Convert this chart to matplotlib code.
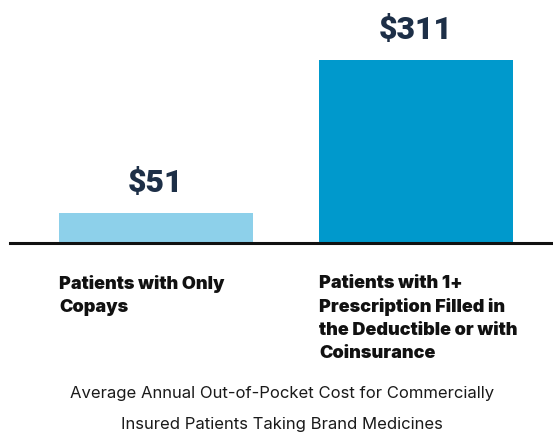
"""Average annual out-of-pocket cost, two bars with a baseline."""

import matplotlib
matplotlib.use("Agg")
import matplotlib.pyplot as plt

# ── Data ──────────────────────────────────────────────────────────────────────
categories = ["Patients with Only\nCopays",
              "Patients with 1+\nPrescription Filled in\nthe Deductible or with\nCoinsurance"]
values = [51, 311]
value_labels = ["$51", "$311"]
caption = ("Average Annual Out-of-Pocket Cost for Commercially\n"
           "Insured Patients Taking Brand Medicines")

BAR_COLORS = ["#8dd0ea", "#0099cc"]
NAVY = "#1d2f47"

# ── Plot ──────────────────────────────────────────────────────────────────────
W, H = 553, 437
fig = plt.figure(figsize=(W / 100, H / 100), dpi=100)
ax = fig.add_axes([10 / W, (H - 243) / H, 543 / W, 243 / H])

xs = range(len(values))
ax.bar(xs, values, width=0.746, color=BAR_COLORS, zorder=2)

ax.set_xlim(-0.5615, 1.527)
ax.set_ylim(0, 413)
for side in ["top", "right", "left"]:
    ax.spines[side].set_visible(False)
ax.spines["bottom"].set_linewidth(2.2)
ax.spines["bottom"].set_color("#111111")
ax.spines["bottom"].set_zorder(3)
ax.set_xticks([])
ax.set_yticks([])
ax.patch.set_alpha(0)

# Waardelabels boven de balken
for x, v, lab in zip(xs, values, value_labels):
    ax.annotate(lab, xy=(x, v), xytext=(0, 11), textcoords="offset points",
                ha="center", va="bottom", fontsize=23, fontweight=900,
                color=NAVY, family="Roboto")

# Categorielabels onder de as, links uitgelijnd met de balk
for x, cat in zip(xs, categories):
    ax.annotate(cat, xy=(x - 0.373, 0), xytext=(0, -23), textcoords="offset points",
                ha="left", va="top", fontsize=13, fontweight=900,
                color="#111111", family="Inter", linespacing=1.45)

fig.text(282 / W, 1 - 386 / H, caption, ha="center", va="top",
         fontsize=12, color="#1a1a1a", family="Inter", linespacing=2.3)

fig.savefig("out.png", dpi=100)
